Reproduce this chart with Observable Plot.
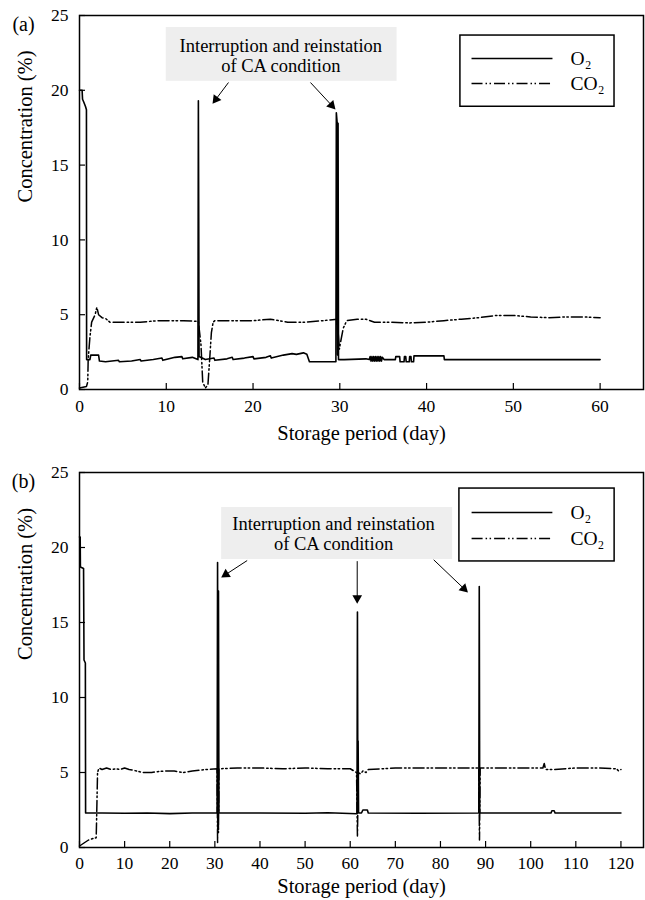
<!DOCTYPE html>
<html><head><meta charset="utf-8">
<script src="https://cdn.jsdelivr.net/npm/d3@7"></script>
<script src="https://cdn.jsdelivr.net/npm/@observablehq/plot@0.6"></script>
<style>body{margin:0;background:#fff;} svg{display:block;}</style>
</head><body><div id="chart"></div>
<script>
// ---------- Panel (a) data ----------
const o2DaysA = [0,0.3,0.35,0.5,0.7,0.8,0.82,1.2,1.3,2.2,2.3,3.0,4.5,4.6,6.0,7.0,7.1,8.5,9.5,9.6,11.0,11.8,11.9,13.0,13.65,13.7,13.74,13.78,14.5,15.5,15.6,17.0,17.6,17.7,19.0,20.0,20.1,21.5,22.0,22.1,23.5,24.5,25.0,25.8,26.2,26.5,29.55,29.6,29.7,29.75,29.8,29.85,30.5,33.0,33.4,33.5,33.6,33.7,33.8,33.9,34.0,34.1,34.2,34.3,34.4,34.5,34.6,34.7,34.8,34.9,35.1,36.4,36.45,36.9,36.95,37.4,37.45,37.6,37.65,38.0,38.05,38.2,38.25,38.5,38.55,42.0,42.05,60];
const o2ValsA = [20.0,20.0,19.4,19.2,18.9,18.7,2.0,2.0,2.3,2.3,1.9,1.85,1.95,1.85,1.9,2.0,1.9,2.0,2.1,1.95,2.15,2.2,2.05,2.15,2.0,19.3,11.5,2.2,2.0,2.1,1.95,2.05,2.15,2.0,2.1,2.2,2.05,2.15,2.25,2.1,2.3,2.4,2.35,2.45,2.35,1.85,1.85,18.5,17.8,2.3,17.8,2.0,2.0,2.05,2.0,2.2,1.9,2.2,1.9,2.2,1.9,2.2,1.9,2.2,1.9,2.2,1.9,2.2,1.9,2.15,2.0,2.0,2.2,2.2,1.85,1.85,2.2,2.2,1.85,1.85,2.2,2.2,1.85,1.85,2.25,2.25,2.0,2.0];
const co2DaysA = [0,0.8,0.95,1.0,1.2,1.4,1.8,2.0,2.2,2.6,3.0,3.5,5,7,9,10,12,13.7,14.0,14.2,14.5,14.8,15.0,15.2,15.4,15.6,18,20,22,24,26,28,29.7,29.85,29.95,30.1,30.4,30.8,32,33,34,36,38,40,42,44,46,48,50,52,54,56,58,60];
const co2ValsA = [0.1,0.2,0.5,2.0,3.5,4.5,5.0,5.5,5.0,4.8,4.75,4.5,4.5,4.5,4.6,4.6,4.6,4.55,3.0,0.5,0.1,0.3,2.0,3.8,4.5,4.6,4.6,4.6,4.7,4.5,4.5,4.6,4.7,3.5,2.7,3.2,4.1,4.6,4.7,4.7,4.5,4.5,4.45,4.5,4.6,4.7,4.8,4.95,4.95,4.85,4.8,4.85,4.85,4.8];
const xTicksA = [0,10,20,30,40,50,60];

// ---------- Panel (b) data ----------
const o2DaysB = [0,0.15,0.2,0.9,1.0,1.3,1.35,5,10,15,20,25,30.5,30.6,30.7,30.8,30.9,40,50,55,61.5,61.6,61.7,61.75,61.85,62.5,62.8,63.8,64.0,75,88.5,88.6,88.7,104.5,104.7,105.2,105.4,120];
const o2ValsB = [20.7,20.7,18.7,18.6,12.5,12.3,2.3,2.3,2.28,2.3,2.26,2.3,2.3,19.0,2.5,17.1,2.3,2.3,2.28,2.32,2.25,15.7,2.4,7.1,2.3,2.3,2.5,2.5,2.3,2.28,2.3,17.4,2.3,2.3,2.45,2.45,2.3,2.3];
const co2DaysB = [0,1,2,3,3.7,3.8,4.0,4.3,5,6,7,8,9,10,11,12,14,16,17,19,21,23,25,28,30.5,30.6,30.7,30.8,30.9,35,40,45,50,55,60,61.4,61.6,61.8,62.3,62.8,63.5,64,70,80,88.5,88.65,88.8,95,100,102.7,103,103.3,105,110,115,119,119.5,120];
const co2ValsB = [0.1,0.3,0.5,0.6,0.65,2.0,5.0,5.3,5.2,5.3,5.2,5.25,5.2,5.3,5.2,5.15,5.0,5.0,5.05,5.1,5.1,5.0,5.1,5.2,5.25,0.3,5.2,1.0,5.25,5.3,5.3,5.25,5.3,5.25,5.25,5.0,0.7,5.0,4.9,5.1,5.0,5.2,5.3,5.3,5.3,0.5,5.3,5.3,5.3,5.3,5.6,5.2,5.2,5.3,5.3,5.25,5.1,5.2];
const xTicksB = [0,10,20,30,40,50,60,70,80,90,100,110,120];

const yTicks = [0,5,10,15,20,25];
const seriesNames = ["O\u2082","CO\u2082"];
const annotationText = "Interruption and reinstation\nof CA condition";
const xLabel = "Storage period (day)";
const yLabel = "Concentration (%)";

// ---------- layout (annotation positions in data units) ----------
const layoutA = {
  tag: "(a)", xMax: 65, xTicks: xTicksA, mt: 15, mb: 61, xLabelDy: 50, tickPad: 10,
  box: {x1: 10.0, x2: 36.6, y1: 20.6, y2: 24.2}, textAt: {x: 23.2, y: 22.3},
  arrows: [{x1: 17.17, y1: 20.52, x2: 15.33, y2: 19.1}, {x1: 26.62, y1: 20.52, x2: 29.5, y2: 18.72}],
  legBox: {x1: 43.9, x2: 61.66, y1: 18.9, y2: 23.66},
  legLines: {x1: 45.18, x2: 54.51, yO2: 22.13, yCO2: 20.45, xText: 56.6}
};
const layoutB = {
  tag: "(b)", xMax: 125, xTicks: xTicksB, mt: 22, mb: 53, xLabelDy: 45, tickPad: 9,
  box: {x1: 31.5, x2: 82.7, y1: 19.2, y2: 22.67}, textAt: {x: 56.3, y: 20.93},
  arrows: [{x1: 37.16, y1: 19.13, x2: 31.4, y2: 18.0}, {x1: 61.55, y1: 19.09, x2: 61.55, y2: 16.25}, {x1: 78.5, y1: 19.18, x2: 86.1, y2: 17.0}],
  legBox: {x1: 84.2, x2: 118.6, y1: 19.07, y2: 23.93},
  legLines: {x1: 86.9, x2: 104.8, yO2: 22.33, yCO2: 20.6, xText: 108.8}
};

const W = 645, H = 450, ML = 79, MR = 2;
const dashCO2 = "11,3,1.5,2.5,1.5,3";

function zip(days, vals) { return days.map((d, i) => ({day: d, v: vals[i]})); }

function panel(L, o2, co2) {
  const pw = W - ML - MR, ph = H - L.mt - L.mb;
  const kx = pw / L.xMax, ky = ph / 25;
  const tb = 5.6;
  const shafts = [], heads = [];
  for (const a of L.arrows) {
    const dxp = (a.x2 - a.x1) * kx, dyp = -(a.y2 - a.y1) * ky;
    const len = Math.hypot(dxp, dyp), ux = dxp / len, uy = dyp / len;
    const cx = a.x2 - ux * tb / kx, cy = a.y2 + uy * tb / ky;
    shafts.push({x1: a.x1, y1: a.y1, x2: cx, y2: cy});
    heads.push({x: cx, y: cy, rot: Math.atan2(ux, -uy) * 180 / Math.PI});
  }
  const lg = L.legLines;
  const legendRows = [
    {name: seriesNames[0], y: lg.yO2},
    {name: seriesNames[1], y: lg.yCO2}
  ];
  return Plot.plot({
    width: W, height: H,
    marginLeft: ML, marginRight: MR, marginTop: L.mt, marginBottom: L.mb,
    style: {fontFamily: "'Liberation Serif', 'Times New Roman', serif", fontSize: "17.5px", color: "black", background: "white"},
    x: {domain: [0, L.xMax]},
    y: {domain: [0, 25]},
    marks: [
      Plot.rect([L.box], {x1: "x1", x2: "x2", y1: "y1", y2: "y2", fill: "#eeeeee"}),
      Plot.text([annotationText], {x: L.textAt.x, y: L.textAt.y, text: d => d, fontSize: 18.5, lineHeight: 1.08, textAnchor: "middle"}),
      Plot.link(shafts, {x1: "x1", y1: "y1", x2: "x2", y2: "y2", stroke: "black", strokeWidth: 1}),
      Plot.dot(heads, {x: "x", y: "y", symbol: "triangle", r: 3.6, fill: "black", rotate: "rot"}),
      Plot.line(co2, {x: "day", y: "v", stroke: "black", strokeWidth: 1.5, strokeDasharray: dashCO2}),
      Plot.line(o2, {x: "day", y: "v", stroke: "black", strokeWidth: 1.6}),
      Plot.rect([L.legBox], {x1: "x1", x2: "x2", y1: "y1", y2: "y2", fill: "white", stroke: "black", strokeWidth: 1.5}),
      Plot.link([legendRows[0]], {x1: lg.x1, x2: lg.x2, y1: "y", y2: "y", stroke: "black", strokeWidth: 1.6}),
      Plot.link([legendRows[1]], {x1: lg.x1, x2: lg.x2, y1: "y", y2: "y", stroke: "black", strokeWidth: 1.5, strokeDasharray: dashCO2}),
      Plot.text(legendRows, {x: lg.xText, y: "y", text: "name", textAnchor: "start", fontSize: 19.5}),
      Plot.tickX(L.xTicks, {x: d => d, insetTop: ph - 6, stroke: "black", strokeWidth: 1.2}),
      Plot.tickY(yTicks, {y: d => d, insetRight: pw - 6, stroke: "black", strokeWidth: 1.2}),
      Plot.axisX({ticks: L.xTicks, tickSize: 0, tickPadding: L.tickPad, fontSize: 17.5, label: null}),
      Plot.axisY({ticks: yTicks, tickSize: 0, tickPadding: 11, fontSize: 17.5, label: null}),
      Plot.frame({stroke: "black", strokeWidth: 1.5}),
      Plot.text([L.tag], {frameAnchor: "top-left", dx: -56, dy: 1, fontSize: 20, textAnchor: "middle"}),
      Plot.text([yLabel], {frameAnchor: "left", dx: -54, rotate: -90, fontSize: 20.5}),
      Plot.text([xLabel], {frameAnchor: "bottom", dy: L.xLabelDy, fontSize: 20.5})
    ]
  });
}

const chart = document.getElementById("chart");
chart.append(panel(layoutA, zip(o2DaysA, o2ValsA), zip(co2DaysA, co2ValsA)));
chart.append(panel(layoutB, zip(o2DaysB, o2ValsB), zip(co2DaysB, co2ValsB)));
</script>
</body></html>
